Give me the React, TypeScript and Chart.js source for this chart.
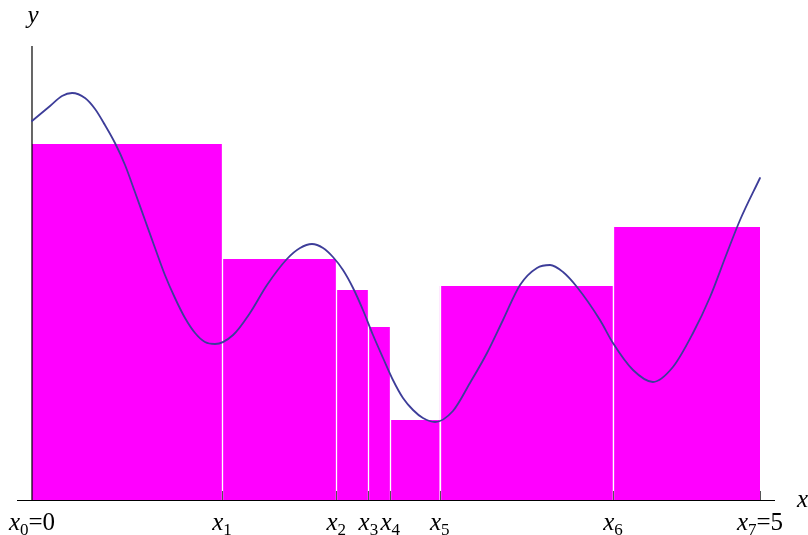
import React, { useEffect, useRef } from 'react';
import { Chart, registerables } from 'chart.js';

Chart.register(...registerables);

// Partition points x0..x7 and Riemann-sum rectangle heights
const partitionX = [0, 1.305, 2.09, 2.31, 2.46, 2.8, 3.99, 5];
const barHeights = [3.56, 2.41, 2.1, 1.73, 0.8, 2.14, 2.73];

// The curve y = f(x)
const curveX = [
  0.0, 0.124, 0.206, 0.275, 0.364, 0.433, 0.501, 0.57, 0.639, 0.707, 0.776,
  0.845, 0.913, 0.982, 1.051, 1.12, 1.188, 1.257, 1.381, 1.497, 1.614, 1.751,
  1.841, 1.923, 1.999, 2.067, 2.136, 2.205, 2.273, 2.342, 2.411, 2.479, 2.548,
  2.617, 2.685, 2.768, 2.891, 3.008, 3.125, 3.235, 3.352, 3.468, 3.558, 3.647,
  3.743, 3.901, 3.99, 4.128, 4.265, 4.402, 4.54, 4.657, 4.773, 4.863, 5.0,
];
const curveY = [
  3.79, 3.94, 4.04, 4.07, 4.02, 3.91, 3.75, 3.57, 3.35, 3.08, 2.8, 2.52, 2.25,
  2.02, 1.82, 1.67, 1.58, 1.56, 1.65, 1.87, 2.15, 2.41, 2.52, 2.56, 2.52, 2.43,
  2.3, 2.12, 1.9, 1.65, 1.42, 1.2, 1.02, 0.9, 0.82, 0.78, 0.89, 1.17, 1.47,
  1.8, 2.15, 2.32, 2.35, 2.28, 2.13, 1.8, 1.57, 1.3, 1.18, 1.33, 1.67, 2.03,
  2.47, 2.8, 3.22,
];

// Tick labels: italic x, subscript index, suffix
const tickSubscripts = ['0', '1', '2', '3', '4', '5', '6', '7'];
const tickSuffixes = ['=0', '', '', '', '', '', '', '=5'];

const xRange = [-0.103, 5.103];
const yRange = [0, 4.54];

const MAGENTA = '#ff00ff';
const CURVE = '#3d3d99';
const SERIF = '"Liberation Serif", "DejaVu Serif", serif';

const overlayPlugin = {
  id: 'riemannOverlay',
  beforeDatasetDraw(chart: any, args: any) {
    if (args.index !== 0) return;
    const { ctx, chartArea } = chart;
    const xs = chart.scales.x;
    const ys = chart.scales.y;
    const y0 = ys.getPixelForValue(0);
    ctx.save();
    // white separators between rectangles
    ctx.strokeStyle = '#ffffff';
    ctx.lineWidth = 1.3;
    for (let i = 1; i < partitionX.length - 1; i++) {
      const px = Math.round(xs.getPixelForValue(partitionX[i])) + 0.5;
      const top = ys.getPixelForValue(Math.max(barHeights[i - 1], barHeights[i]));
      ctx.beginPath();
      ctx.moveTo(px, y0);
      ctx.lineTo(px, top);
      ctx.stroke();
    }
    // tick marks
    ctx.strokeStyle = '#555555';
    ctx.lineWidth = 1;
    for (let i = 1; i < partitionX.length; i++) {
      const px = Math.round(xs.getPixelForValue(partitionX[i])) + 0.5;
      ctx.beginPath();
      ctx.moveTo(px, y0);
      ctx.lineTo(px, y0 - 9);
      ctx.stroke();
    }
    // axes
    ctx.strokeStyle = '#000000';
    ctx.lineWidth = 1.2;
    ctx.beginPath();
    ctx.moveTo(chartArea.left, y0 + 0.5);
    ctx.lineTo(chartArea.right, y0 + 0.5);
    ctx.stroke();
    const ax = xs.getPixelForValue(0);
    ctx.beginPath();
    ctx.moveTo(ax, y0 + 0.5);
    ctx.lineTo(ax, chartArea.top);
    ctx.stroke();
    ctx.restore();
  },
  afterDraw(chart: any) {
    const { ctx, chartArea } = chart;
    const xs = chart.scales.x;
    const ys = chart.scales.y;
    const y0 = ys.getPixelForValue(0);
    ctx.save();
    ctx.fillStyle = '#000000';
    ctx.textBaseline = 'alphabetic';
    ctx.textAlign = 'left';
    const mainFont = `italic 25px ${SERIF}`;
    const subFont = `17px ${SERIF}`;
    const sufFont = `25px ${SERIF}`;
    const base = y0 + 30;
    for (let i = 0; i < partitionX.length; i++) {
      const cx = xs.getPixelForValue(partitionX[i]);
      ctx.font = mainFont;
      const wx = ctx.measureText('x').width;
      ctx.font = subFont;
      const ws = ctx.measureText(tickSubscripts[i]).width;
      ctx.font = sufFont;
      const wf = ctx.measureText(tickSuffixes[i]).width;
      let left = cx - (wx + ws + wf) / 2;
      ctx.font = mainFont;
      ctx.fillText('x', left, base);
      left += wx;
      ctx.font = subFont;
      ctx.fillText(tickSubscripts[i], left, base + 5);
      left += ws;
      if (tickSuffixes[i]) {
        ctx.font = sufFont;
        ctx.fillText(tickSuffixes[i], left, base);
      }
    }
    // axis names
    ctx.font = mainFont;
    ctx.textAlign = 'center';
    ctx.fillText('y', xs.getPixelForValue(0) + 1, chartArea.top - 23);
    ctx.textAlign = 'left';
    ctx.fillText('x', chartArea.right + 22, y0 + 7);
    ctx.restore();
  },
};

export default function App() {
  const canvasRef = useRef<HTMLCanvasElement | null>(null);

  useEffect(() => {
    if (!canvasRef.current) return;
    const curveData = curveX.map((x, i) => ({ x, y: curveY[i] }));
    const barSets = barHeights.map((h, i) => ({
      type: 'line' as const,
      data: [
        { x: partitionX[i], y: h },
        { x: partitionX[i + 1], y: h },
      ],
      borderWidth: 0,
      borderColor: MAGENTA,
      backgroundColor: MAGENTA,
      fill: 'origin',
      pointRadius: 0,
      tension: 0,
    }));
    const chart = new Chart(canvasRef.current, {
      type: 'line',
      data: {
        datasets: [
          {
            data: curveData,
            borderColor: CURVE,
            borderWidth: 1.8,
            pointRadius: 0,
            cubicInterpolationMode: 'monotone',
            fill: false,
          },
          ...barSets,
        ] as any,
      },
      options: {
        animation: false,
        responsive: false,
        maintainAspectRatio: false,
        layout: { padding: { left: 17, right: 33, top: 46, bottom: 35 } },
        plugins: { legend: { display: false }, tooltip: { enabled: false } },
        scales: {
          x: { type: 'linear', min: xRange[0], max: xRange[1], display: false },
          y: { type: 'linear', min: yRange[0], max: yRange[1], display: false },
        },
        elements: { line: { borderCapStyle: 'round' } },
      },
      plugins: [overlayPlugin],
    });
    return () => chart.destroy();
  }, []);

  return (
    <div style={{ position: 'absolute', left: 0, top: 0, width: 808, height: 535, background: '#fff' }}>
      <canvas ref={canvasRef} width={808} height={535} style={{ display: 'block' }} />
    </div>
  );
}
